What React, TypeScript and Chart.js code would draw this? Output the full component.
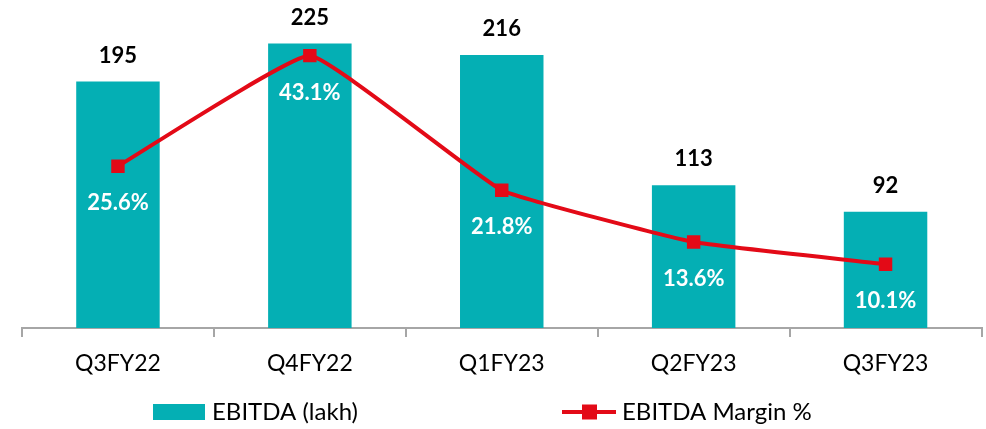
import React, { useEffect, useRef } from "react";
import { Chart, registerables } from "chart.js";

Chart.register(...registerables);

const categories = ["Q3FY22", "Q4FY22", "Q1FY23", "Q2FY23", "Q3FY23"];
const ebitda = [195, 225, 216, 113, 92];
const margin = [25.6, 43.1, 21.8, 13.6, 10.1];
const ebitdaLabel = "EBITDA (lakh)";
const marginLabel = "EBITDA Margin %";

const TEAL = "#04AFB4";
const RED = "#E30A17";
const FONT = "Lato, 'Open Sans', sans-serif";

const labelPlugin = {
  id: "valueLabels",
  afterDatasetsDraw(chart: any) {
    const ctx = chart.ctx;
    ctx.save();
    ctx.textAlign = "center";
    ctx.textBaseline = "middle";
    chart.data.datasets.forEach((ds: any, i: number) => {
      const meta = chart.getDatasetMeta(i);
      meta.data.forEach((el: any, j: number) => {
        const v = ds.data[j];
        if (ds.type === "bar") {
          ctx.fillStyle = "#000";
          ctx.font = `bold 22px ${FONT}`;
          ctx.fillText(String(v), el.x, el.y - 26);
        } else {
          ctx.fillStyle = "#fff";
          ctx.font = `bold 22px ${FONT}`;
          ctx.fillText(v.toFixed(1) + "%", el.x, el.y + 37);
        }
      });
    });
    ctx.restore();
  },
  afterDraw(chart: any) {
    const ctx = chart.ctx;
    ctx.save();
    const y = 412;
    ctx.fillStyle = TEAL;
    ctx.fillRect(153, y - 8, 52, 16);
    ctx.fillStyle = "#000";
    ctx.font = `24px ${FONT}`;
    ctx.textAlign = "left";
    ctx.textBaseline = "middle";
    ctx.fillText(ebitdaLabel, 212, y);
    ctx.strokeStyle = RED;
    ctx.lineWidth = 4;
    ctx.beginPath();
    ctx.moveTo(562, y);
    ctx.lineTo(616, y);
    ctx.stroke();
    ctx.fillStyle = RED;
    ctx.fillRect(582, y - 7.5, 15, 15);
    ctx.fillStyle = "#000";
    ctx.fillText(marginLabel, 622, y);
    ctx.restore();
  },
};

export default function App() {
  const ref = useRef<HTMLCanvasElement>(null);
  useEffect(() => {
    if (!ref.current) return;
    const chart = new Chart(ref.current, {
      type: "bar",
      data: {
        labels: categories,
        datasets: [
          {
            type: "line",
            label: marginLabel,
            data: margin,
            yAxisID: "y1",
            borderColor: RED,
            backgroundColor: RED,
            borderWidth: 4,
            pointStyle: "rect",
            pointRadius: 9.5,
            pointBackgroundColor: RED,
            pointBorderColor: RED,
            pointBorderWidth: 0,
            tension: 0.1,
            order: 0,
          } as any,
          {
            type: "bar",
            label: ebitdaLabel,
            data: ebitda,
            yAxisID: "y",
            backgroundColor: TEAL,
            categoryPercentage: 1,
            barPercentage: 0.435,
            order: 1,
          },
        ],
      },
      options: {
        animation: false,
        responsive: true,
        maintainAspectRatio: false,
        layout: { autoPadding: false, padding: { left: 22, right: 4.5, top: 12, bottom: 0 } },
        plugins: {
          legend: { display: false },
          tooltip: { enabled: false },
        },
        scales: {
          x: {
            offset: true,
            grid: {
              offset: true,
              drawOnChartArea: false,
              drawTicks: true,
              tickLength: 9,
              color: "#A6A6A6",
              lineWidth: 2,
            },
            border: { display: true, color: "#A6A6A6", width: 2 },
            ticks: {
              color: "#000",
              font: { family: FONT, size: 23 },
              padding: 13,
            },
            afterFit(scale: any) {
              scale.height = 101;
              scale.paddingLeft = 0;
              scale.paddingRight = 0;
            },
          },
          y: { display: false, min: 0, max: 250 },
          y1: { display: false, min: 0, max: 50, position: "right" },
        },
      },
      plugins: [labelPlugin],
    });
    return () => chart.destroy();
  }, []);
  return (
    <div style={{ position: "absolute", left: 0, top: 0, width: 986, height: 429, background: "#fff" }}>
      <canvas ref={ref} />
    </div>
  );
}
